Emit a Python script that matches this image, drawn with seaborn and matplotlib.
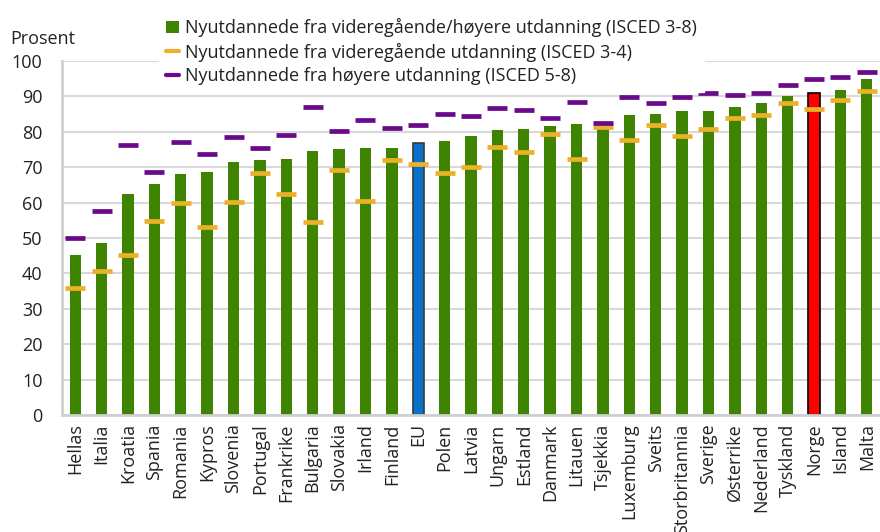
import numpy as np
import matplotlib
matplotlib.use("Agg")
import matplotlib.pyplot as plt
import seaborn as sns
from matplotlib.patches import Patch
from matplotlib.lines import Line2D

# data
countries = ["Hellas", "Italia", "Kroatia", "Spania", "Romania", "Kypros", "Slovenia",
             "Portugal", "Frankrike", "Bulgaria", "Slovakia", "Irland", "Finland", "EU",
             "Polen", "Latvia", "Ungarn", "Estland", "Danmark", "Litauen", "Tsjekkia",
             "Luxemburg", "Sveits", "Storbritannia", "Sverige", "Østerrike", "Nederland",
             "Tyskland", "Norge", "Island", "Malta"]
isced_3_8 = [45.2, 48.5, 62.5, 65.2, 68.1, 68.7, 71.4, 72.1, 72.2, 74.6, 75.2, 75.3, 75.4,
             76.8, 77.4, 78.8, 80.5, 80.7, 81.7, 82.1, 81.9, 84.7, 84.9, 85.8, 85.8, 86.9,
             88.2, 90.2, 90.9, 91.9, 95.0]
isced_3_4 = [35.9, 40.8, 45.1, 54.9, 59.8, 53.2, 60.2, 68.5, 62.5, 54.6, 69.3, 60.4, 72.0,
             70.8, 68.5, 70.0, 75.6, 74.4, 79.5, 72.2, 81.4, 77.8, 81.9, 78.7, 80.7, 83.8,
             84.7, 88.2, 86.4, 89.1, 91.6]
isced_5_8 = [50.0, 57.6, 76.2, 68.7, 77.2, 73.6, 78.5, 75.5, 79.2, 87.1, 80.3, 83.4, 81.1,
             81.9, 85.1, 84.4, 86.7, 86.1, 83.8, 88.5, 82.6, 89.7, 88.0, 89.7, 90.9, 90.3,
             90.9, 93.3, 95.0, 95.4, 96.9]

GREEN = "#3e8400"
BLUE = "#0a72cc"
RED = "#ff0000"
YELLOW = "#ecb12a"
PURPLE = "#6a0a8a"
GRID = "#d9d9d9"
TEXT = "#222222"

sns.set_style("white")
plt.rcParams['font.family'] = ['Open Sans', 'DejaVu Sans']

bar_colors = {c: GREEN for c in countries}
bar_colors["EU"] = BLUE
bar_colors["Norge"] = RED

fig = plt.figure(figsize=(8.8, 5.32), dpi=100)
ax = fig.add_axes([62 / 880, (532 - 415) / 532, 818 / 880, (415 - 61) / 532])

sns.barplot(x=countries, y=isced_3_8, hue=countries, palette=bar_colors,
            width=0.43, legend=False, ax=ax, saturation=1, linewidth=0)
for bar, c in zip(ax.patches, countries):
    if c == "EU":
        bar.set_edgecolor("#3a3a3a")
        bar.set_linewidth(1.2)
    elif c == "Norge":
        bar.set_edgecolor("black")
        bar.set_linewidth(1.2)

sns.scatterplot(x=countries, y=isced_3_4, marker="_", s=207, color=YELLOW,
                linewidth=3.4, ax=ax, zorder=3)
sns.scatterplot(x=countries, y=isced_5_8, marker="_", s=207, color=PURPLE,
                linewidth=3.4, ax=ax, zorder=3)

ax.set_xlim(-0.5, len(countries) - 0.5)
ax.set_ylim(0, 100)
ax.set_yticks(np.arange(0, 101, 10))
ax.set_axisbelow(True)
ax.yaxis.grid(True, color=GRID, linewidth=1.5)
ax.xaxis.grid(False)

for side in ["top", "right"]:
    ax.spines[side].set_visible(False)
for side in ["left", "bottom"]:
    ax.spines[side].set_color("#d0d0d0")
    ax.spines[side].set_linewidth(2)

ax.set_xticks(range(len(countries)))
ax.set_xticklabels(countries, rotation=90, fontsize=13, color=TEXT)
ax.set_xticks(np.arange(0.5, len(countries) - 0.5, 1), minor=True)
ax.tick_params(axis="x", which="major", length=0, pad=6)
ax.tick_params(axis="x", which="minor", length=5, width=1.2, color="#d0d0d0")
ax.tick_params(axis="y", length=0, labelsize=13, labelcolor=TEXT, pad=14)
ax.set_xlabel("")
ax.set_ylabel("")

fig.text(10 / 880, 1 - 44 / 532, "Prosent", fontsize=13, color=TEXT, va="baseline")

handles = [
    Patch(facecolor=GREEN, edgecolor="none"),
    Line2D([], [], color=YELLOW, linewidth=3),
    Line2D([], [], color=PURPLE, linewidth=3),
]
labels = [
    "Nyutdannede fra videregående/høyere utdanning (ISCED 3-8)",
    "Nyutdannede fra videregående utdanning (ISCED 3-4)",
    "Nyutdannede fra høyere utdanning (ISCED 5-8)",
]
fig.legend(handles, labels, loc="upper left", bbox_to_anchor=(150 / 880, 1 - 2 / 532),
           frameon=True, facecolor="white", edgecolor="white", framealpha=1,
           fontsize=13, handlelength=0.7, handleheight=0.7, handletextpad=0.35,
           labelspacing=0.3, borderpad=0.4, labelcolor=TEXT, fancybox=False)

fig.savefig("out.png", dpi=100)
